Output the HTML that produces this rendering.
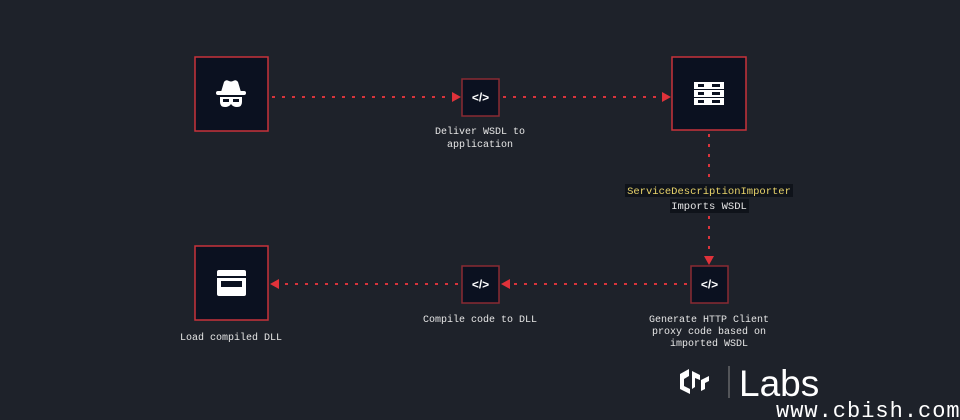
<!DOCTYPE html>
<html><head><meta charset="utf-8"><style>
html,body{margin:0;padding:0;background:#1e222a;}
svg{display:block}
text{font-family:"Liberation Mono","DejaVu Sans Mono",monospace;font-size:10px;fill:#e6e6e6;}
</style></head><body>
<svg width="960" height="420" viewBox="0 0 960 420" xmlns="http://www.w3.org/2000/svg">
<rect width="960" height="420" fill="#1e222a"/>
<g stroke="#d8343c" stroke-width="2" stroke-dasharray="3 7" fill="none">
<line x1="272" y1="97" x2="452" y2="97"/>
<line x1="503" y1="97" x2="662" y2="97"/>
<line x1="709" y1="134" x2="709" y2="183"/>
<line x1="709" y1="216" x2="709" y2="256"/>
<line x1="687" y1="284" x2="510" y2="284"/>
<line x1="458" y1="284" x2="280" y2="284"/>
</g>
<g fill="#e0323a">
<polygon points="452,92 461,97 452,102"/>
<polygon points="662,92 671,97 662,102"/>
<polygon points="704,256 709,265 714,256"/>
<polygon points="510,279 501,284 510,289"/>
<polygon points="279,279 270,284 279,289"/>
</g>
<g fill="#0b1120" stroke="#c8323a" stroke-width="1.5">
<rect x="195" y="57" width="73" height="74"/>
<rect x="672" y="57" width="74" height="73"/>
<rect x="195" y="246" width="73" height="74"/>
<rect x="462" y="79" width="37" height="37" stroke="#8a2a33"/>
<rect x="691" y="266" width="37" height="37" stroke="#8a2a33"/>
<rect x="462" y="266" width="37" height="37" stroke="#8a2a33"/>
</g>
<g fill="#fff">
<path d="M221 92 L224 82 Q226 79 229 81 Q231 82 233 81 Q236 79 238 82 L241 92 Z"/>
<rect x="216" y="91" width="30" height="4" rx="2"/>
<path d="M220 97 h22 v5 q0 5 -5 5 q-4 0 -6 -3 q-2 3 -6 3 q-5 0 -5 -5 z"/>
</g>
<rect x="223" y="99" width="6" height="3" fill="#0b1120"/>
<rect x="233" y="99" width="6" height="3" fill="#0b1120"/>
<g fill="#fff">
<rect x="694" y="82" width="30" height="7"/>
<rect x="694" y="90" width="30" height="7"/>
<rect x="694" y="98" width="30" height="7"/>
</g>
<g fill="#0b1120">
<rect x="698" y="84" width="6" height="3"/><rect x="712" y="84" width="8" height="3"/>
<rect x="698" y="92" width="6" height="3"/><rect x="712" y="92" width="8" height="3"/>
<rect x="698" y="100" width="6" height="3"/><rect x="712" y="100" width="8" height="3"/>
</g>
<rect x="217" y="270" width="29" height="26" rx="2" fill="#fff"/>
<rect x="217" y="276" width="29" height="2" fill="#0b1120"/>
<rect x="221" y="281" width="21" height="6" fill="#0b1120"/>
<g>
<text x="480.5" y="101.5" text-anchor="middle" style="font-size:12px;fill:#fff;font-family:'Liberation Sans',sans-serif;font-weight:bold">&lt;/&gt;</text>
<text x="709.5" y="288.5" text-anchor="middle" style="font-size:12px;fill:#fff;font-family:'Liberation Sans',sans-serif;font-weight:bold">&lt;/&gt;</text>
<text x="480.5" y="288.5" text-anchor="middle" style="font-size:12px;fill:#fff;font-family:'Liberation Sans',sans-serif;font-weight:bold">&lt;/&gt;</text>
</g>
<text x="480" y="134" text-anchor="middle">Deliver WSDL to</text>
<text x="480" y="147" text-anchor="middle">application</text>
<rect x="625" y="184" width="168" height="13" fill="#0f131a"/>
<rect x="670" y="199" width="79" height="14" fill="#0f131a"/>
<text x="709" y="194" text-anchor="middle" style="fill:#e8d36a;font-size:10.5px">ServiceDescriptionImporter</text>
<text x="709" y="209" text-anchor="middle" style="font-size:10.5px">Imports WSDL</text>
<text x="709" y="322" text-anchor="middle">Generate HTTP Client</text>
<text x="709" y="334" text-anchor="middle">proxy code based on</text>
<text x="709" y="346" text-anchor="middle">imported WSDL</text>
<text x="480" y="322" text-anchor="middle">Compile code to DLL</text>
<text x="231" y="340" text-anchor="middle">Load compiled DLL</text>
<g fill="#fff">
<path d="M680 374 l9 -5 v7 l-5 3 v7 l6 3 v5 l-10 -5 z"/>
<path d="M692 371 l8 4 v5 l-5 -2 v9 l-3 2 z"/>
<path d="M701 380 l8 -4 v5 l-4 2 v6 l-4 2 z"/>
</g>
<line x1="729" y1="366" x2="729" y2="398" stroke="#888" stroke-width="1"/>
<text x="739" y="396" style="font-family:'Liberation Sans',sans-serif;font-size:37px;fill:#fff">Labs</text>
<text x="776" y="417" style="font-family:'Liberation Mono',monospace;font-size:22px;fill:#fff;letter-spacing:1px">www.cbish.com</text>
</svg>
</body></html>
